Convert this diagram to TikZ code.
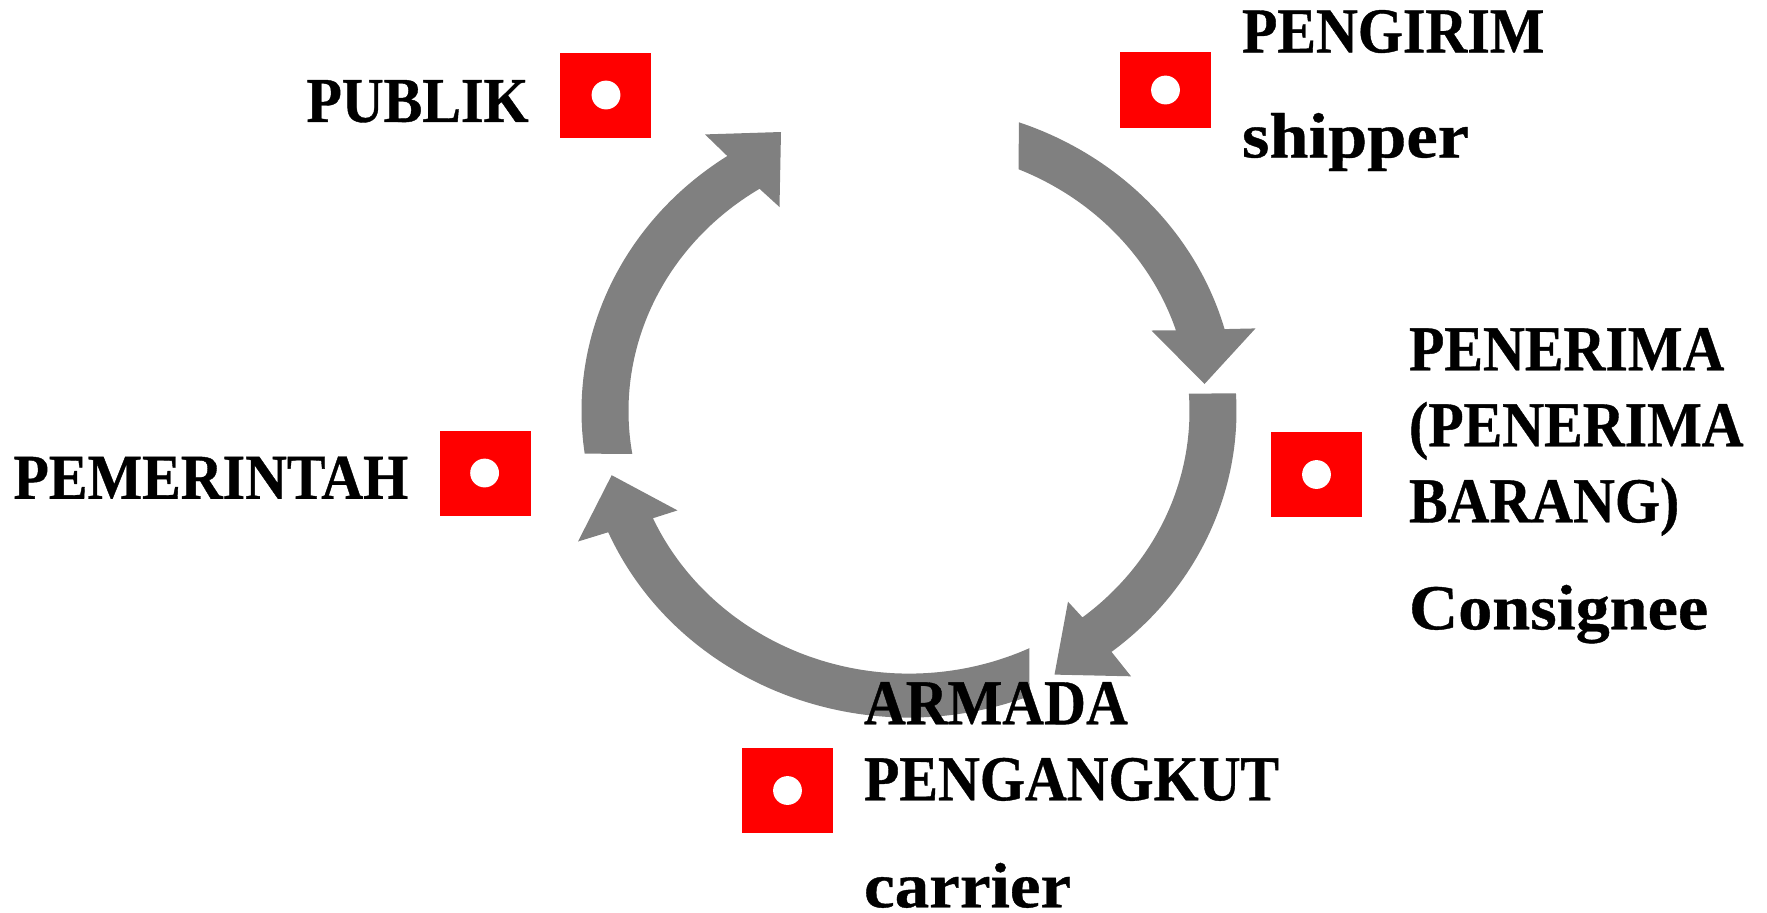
\documentclass[tikz,border=0pt]{standalone}
\usepackage{fontspec}
\setmainfont{Liberation Serif}
\newfontfamily\capface[BoldFeatures={FakeStretch=0.905,FakeBold=0.6}]{Liberation Serif}
\newfontfamily\lowface[BoldFeatures={FakeStretch=1.08,FakeBold=0.6}]{Liberation Serif}
\newfontfamily\consface[BoldFeatures={FakeStretch=1.065,FakeBold=0.6}]{Liberation Serif}
\newfontfamily\shipface[BoldFeatures={FakeStretch=1.1,FakeBold=0.6}]{Liberation Serif}
\definecolor{arrowgrey}{RGB}{128,128,128}
\tikzset{
  lbl/.style={anchor=north west,inner sep=0pt,outer sep=0pt,align=left,text=black,
    font=\fontsize{32}{38}\selectfont\bfseries\capface},
  marker/.style={fill=red,draw=none},
  dot/.style={fill=white,draw=none},
  ring/.style={fill=arrowgrey,draw=none}
}
\newcommand{\ox}{327.5}\newcommand{\oy}{306.5}
\newcommand{\ix}{280.5}\newcommand{\iy}{262.6}
% #1 outer start, #2 outer end, #3 inner end, #4 inner start, #5 head points
\newcommand{\ringarrow}[5]{%
  \fill[ring] (909,411) ++(#1:\ox\space and \oy)
    arc[start angle=#1,end angle=#2,x radius=\ox,y radius=\oy]
    #5
    -- ($(909,411)+(#3:\ix\space and \iy)$)
    arc[start angle=#3,end angle=#4,x radius=\ix,y radius=\iy]
    -- cycle;}
\newcommand{\badge}[6]{%
  \fill[marker] (#2,#3) rectangle (#4,#5);
  \fill[dot] (#6) circle[radius=14.4];}
\newcommand{\low}[1]{{\lowface #1}}
\usetikzlibrary{calc}
\begin{document}
\begin{tikzpicture}[x=0.5pt,y=-0.5pt]
\useasboundingbox (0,0) rectangle (1767,912);
\ringarrow{-70.4}{-15.5}{-17.9}{-67.0}{-- (1255.5,328.4) -- (1204.5,384) -- (1151.5,330.5)}
\ringarrow{-3.3}{51.8}{51.8}{-3.8}{-- (1131,676.3) -- (1054.5,674.6) -- (1068,601.7)}
\ringarrow{68.4}{156.7}{155.9}{64.6}{-- (578,541.5) -- (611.7,475.2) -- (677.5,510.4)}
\ringarrow{172}{236.3}{237.8}{170.6}{-- (705,134.4) -- (781,132) -- (779.5,207)}
\badge{pengirim}{1120}{52}{1211}{127.5}{1165.5,90}
\badge{publik}{560}{53}{651}{137.5}{606,95}
\badge{penerima}{1271}{431.6}{1362}{517}{1316.5,474.5}
\badge{pemerintah}{439.5}{430.5}{530.5}{516}{484.6,473}
\badge{armada}{742}{748}{833}{833}{787.5,790.5}
\node[lbl] (tpengirim) at (1242,10) {PENGIRIM\\[14.5pt]{\shipface shipper}};
\node[lbl] (tpublik) at (306.5,80) {PUBLIK};
\node[lbl] (tpenerima) at (1409,328) {PENERIMA\\(PENERIMA\\BARANG)\\[15.5pt]{\consface Consignee}};
\node[lbl] (tpemerintah) at (13.5,456.5) {PEMERINTAH};
\node[lbl] (tarmada) at (864,682) {ARMADA\\PENGANGKUT\\[15.5pt]\low{carrier}};
\end{tikzpicture}
\end{document}
